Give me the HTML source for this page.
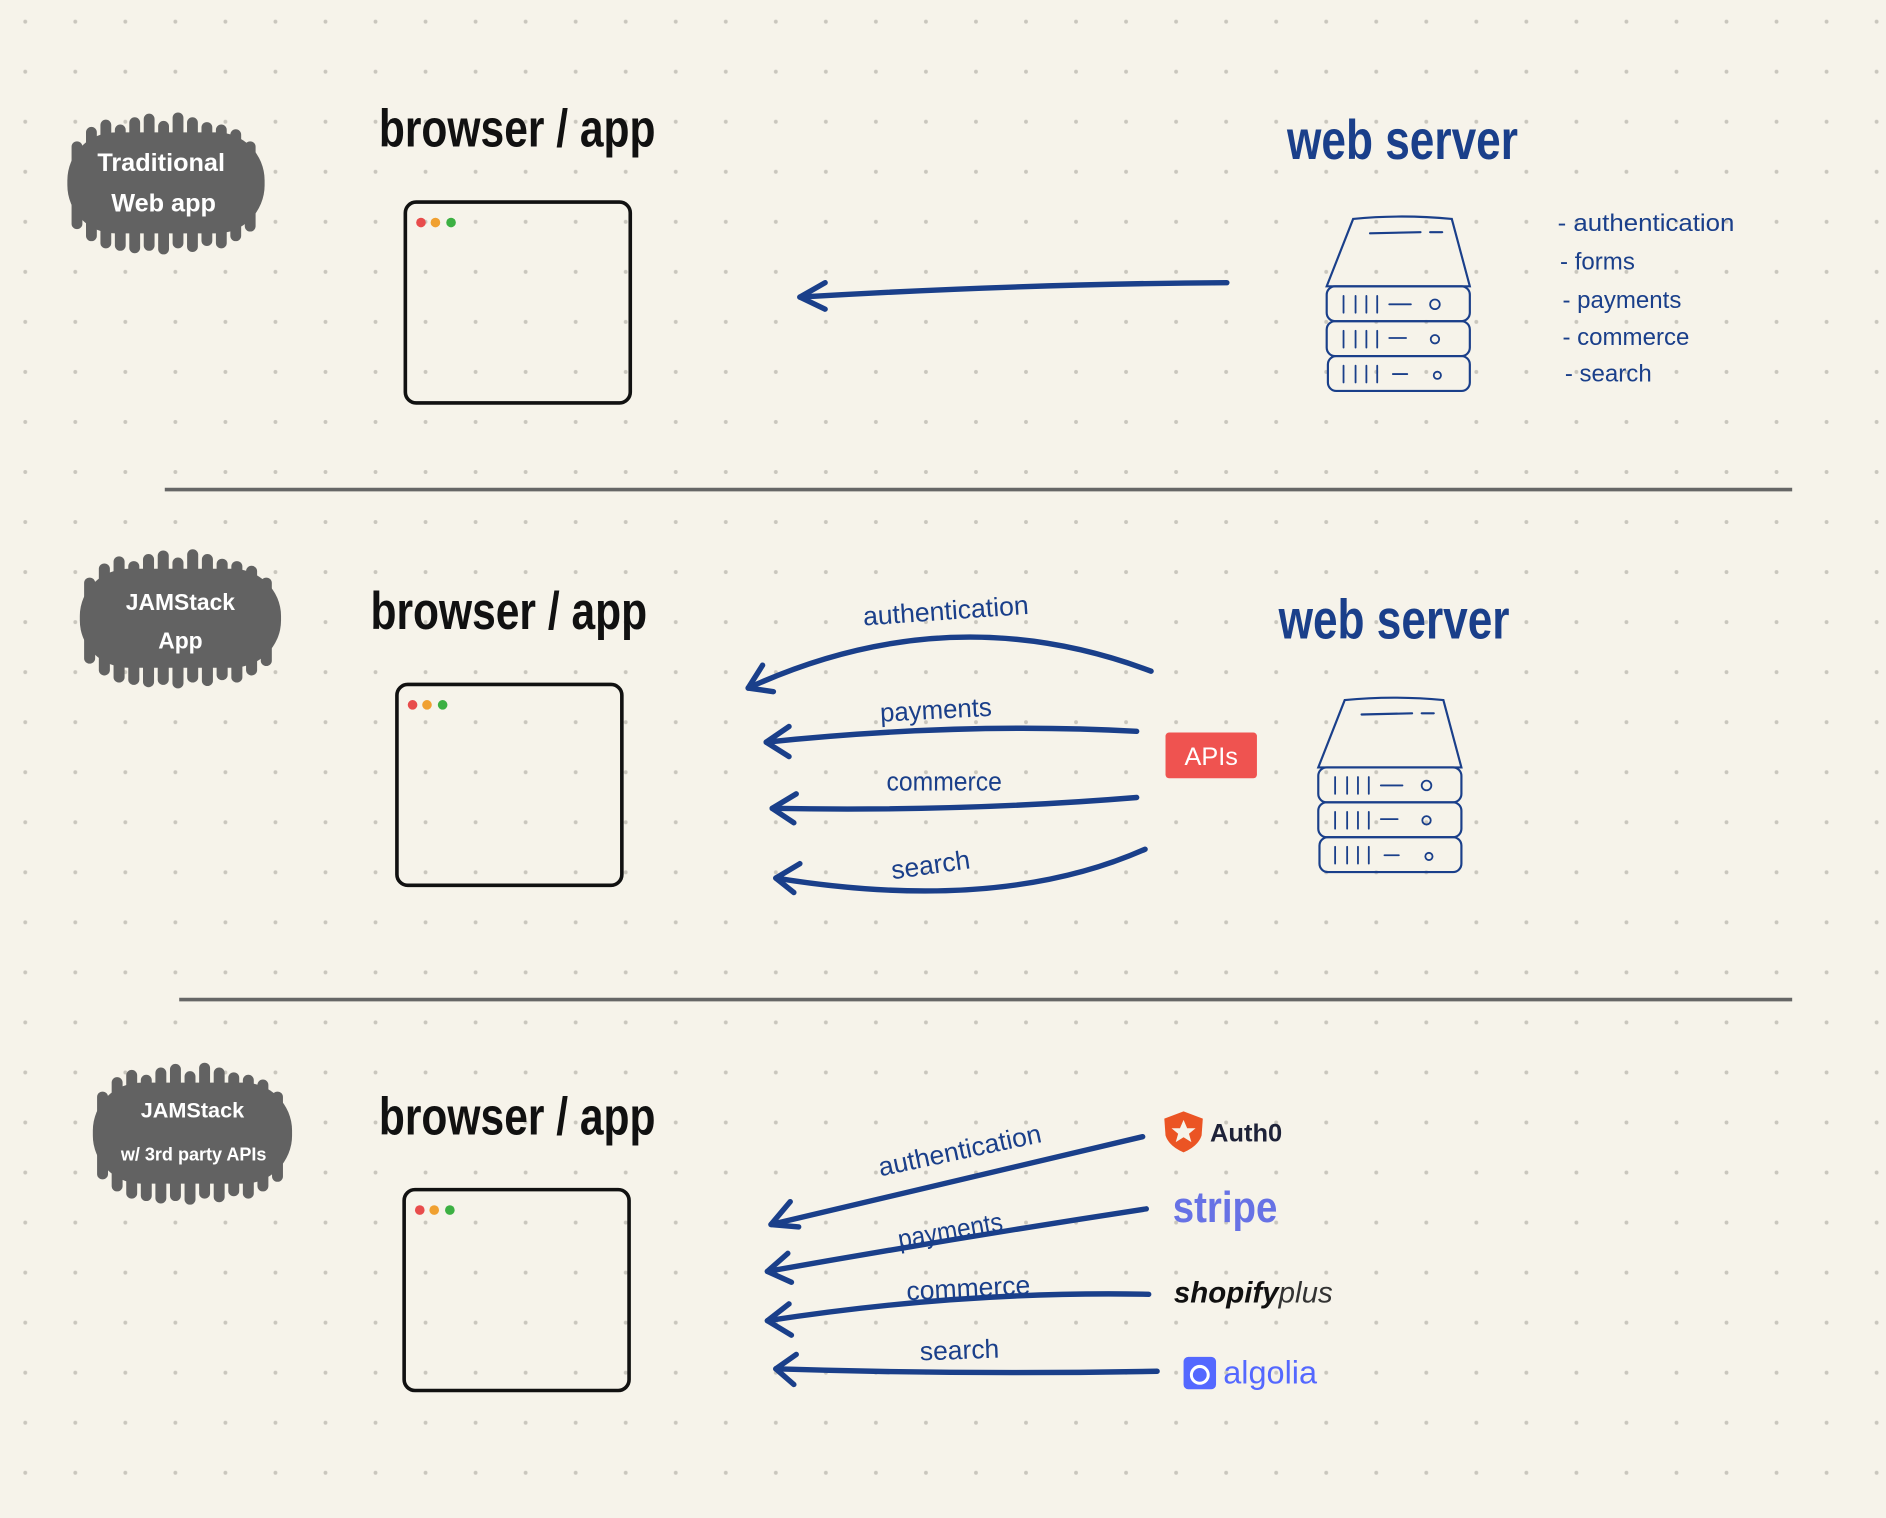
<!DOCTYPE html>
<html><head><meta charset="utf-8"><style>
html,body{margin:0;padding:0;background:#f6f3ea;}
svg{display:block;}
text{font-family:"Liberation Sans",sans-serif;}
</style></head><body>
<svg width="1886" height="1518" viewBox="0 0 1568 1262" preserveAspectRatio="none" xmlns="http://www.w3.org/2000/svg">
<defs>
<pattern id="dots" x="21" y="18" width="41.6" height="41.6" patternUnits="userSpaceOnUse">
<circle cx="0" cy="0" r="1.6" fill="#c9c6bd"/><circle cx="41.6" cy="0" r="1.6" fill="#c9c6bd"/><circle cx="0" cy="41.6" r="1.6" fill="#c9c6bd"/><circle cx="41.6" cy="41.6" r="1.6" fill="#c9c6bd"/>
</pattern>
<g id="blob" fill="#626262" stroke="#626262" stroke-linecap="round">
<rect x="-82" y="-42" width="164" height="84" rx="40" stroke="none"/>
<g stroke-width="9">
<line x1="-62" y1="-42" x2="-62" y2="44"/><line x1="-50" y1="-48" x2="-50" y2="50"/><line x1="-38" y1="-44" x2="-38" y2="52"/><line x1="-26" y1="-50" x2="-26" y2="54"/><line x1="-14" y1="-53" x2="-14" y2="52"/><line x1="-2" y1="-47" x2="-2" y2="55"/><line x1="10" y1="-54" x2="10" y2="50"/><line x1="22" y1="-50" x2="22" y2="53"/><line x1="34" y1="-46" x2="34" y2="48"/><line x1="46" y1="-44" x2="46" y2="50"/><line x1="58" y1="-40" x2="58" y2="44"/><line x1="70" y1="-30" x2="70" y2="36"/><line x1="-74" y1="-30" x2="-74" y2="34"/>
</g></g>
<g id="browser">
<rect x="0" y="0" width="187" height="167" rx="9" fill="none" stroke="#111" stroke-width="3"/>
<circle cx="13" cy="17" r="4" fill="#e84c4c"/><circle cx="25" cy="17" r="4" fill="#f0a030"/><circle cx="38" cy="17" r="4" fill="#3cb043"/>
</g>
<g id="server" fill="none" stroke="#1a3f8a" stroke-width="1.8" stroke-linecap="round">
<path d="M22,2 Q62,-2 104,2 L119,58 L0,58 Z"/>
<line x1="36" y1="14" x2="78" y2="13"/><line x1="86" y1="13" x2="96" y2="13"/>
<rect x="0" y="58" width="119" height="29" rx="7"/><rect x="0" y="87" width="119" height="29" rx="7"/><rect x="1" y="116" width="118" height="29" rx="7"/>
<g stroke-width="1.5">
<path d="M14,66v14M24,66v14M33,66v14M42,66v14M52,73h18"/><circle cx="90" cy="73" r="4"/>
<path d="M14,95v14M24,95v14M33,95v14M42,95v14M52,101h14"/><circle cx="90" cy="102" r="3.5"/>
<path d="M14,124v14M24,124v14M33,124v14M42,124v14M55,131h12"/><circle cx="92" cy="132" r="3"/>
</g></g>
</defs>
<rect width="1568" height="1262" fill="#f6f3ea"/>
<rect width="1568" height="1262" fill="url(#dots)"/>

<use href="#blob" transform="translate(138,152)"/>
<text x="134" y="142" fill="#fff" font-size="21" font-weight="bold" text-anchor="middle">Traditional</text>
<text x="136" y="176" fill="#fff" font-size="21" font-weight="bold" text-anchor="middle">Web app</text>
<use href="#blob" transform="translate(150,514) scale(1.02,0.98)"/>
<text x="150" y="507" fill="#fff" font-size="19" font-weight="bold" text-anchor="middle">JAMStack</text>
<text x="150" y="539" fill="#fff" font-size="19" font-weight="bold" text-anchor="middle">App</text>
<use href="#blob" transform="translate(160,942) scale(1.01,1.0)"/>
<text x="160" y="929" fill="#fff" font-size="18" font-weight="bold" text-anchor="middle">JAMStack</text>
<text x="161" y="965" fill="#fff" font-size="15" font-weight="bold" text-anchor="middle">w/ 3rd party APIs</text>

<g font-size="44" font-weight="bold" fill="#111">
<text x="315" y="122" textLength="230" lengthAdjust="spacingAndGlyphs">browser / app</text>
<text x="308" y="523" textLength="230" lengthAdjust="spacingAndGlyphs">browser / app</text>
<text x="315" y="943" textLength="230" lengthAdjust="spacingAndGlyphs">browser / app</text>
</g>
<use href="#browser" transform="translate(337,168)"/>
<use href="#browser" transform="translate(330,569)"/>
<use href="#browser" transform="translate(336,989)"/>

<g font-size="46" font-weight="bold" fill="#1a3f8a">
<text x="1070" y="132" textLength="192" lengthAdjust="spacingAndGlyphs">web server</text>
<text x="1063" y="531" textLength="192" lengthAdjust="spacingAndGlyphs">web server</text>
</g>
<use href="#server" transform="translate(1103,180)"/>
<use href="#server" transform="translate(1096,580)"/>

<g font-size="20" fill="#1a3f8a">
<text x="1295" y="192" textLength="147" lengthAdjust="spacingAndGlyphs">- authentication</text>
<text x="1297" y="224">- forms</text>
<text x="1299" y="256">- payments</text>
<text x="1299" y="287">- commerce</text>
<text x="1301" y="317">- search</text>
</g>

<line x1="137" y1="407" x2="1490" y2="407" stroke="#666" stroke-width="3"/>
<line x1="149" y1="831" x2="1490" y2="831" stroke="#666" stroke-width="3"/>

<g fill="none" stroke="#1a3f8a" stroke-width="4.5" stroke-linecap="round" stroke-linejoin="round">
<path d="M1020,235 Q850,236 665,247"/><path d="M686,235 L665,247 L686,257"/>
<path d="M957,558 Q790,495 622,572"/><path d="M634,553 L622,572 L643,575"/>
<path d="M945,608 Q800,600 637,617"/><path d="M656,604 L637,617 L656,629"/>
<path d="M945,663 Q800,675 642,672"/><path d="M662,660 L642,672 L660,684"/>
<path d="M952,706 Q830,760 645,730"/><path d="M665,718 L645,730 L660,742"/>
<path d="M950,945 Q780,985 641,1018"/><path d="M657,999 L641,1018 L664,1020"/>
<path d="M953,1005 Q790,1030 638,1057"/><path d="M655,1042 L638,1057 L658,1066"/>
<path d="M955,1076 Q800,1073 638,1098"/><path d="M656,1084 L638,1098 L658,1110"/>
<path d="M962,1140 Q800,1143 645,1138"/><path d="M662,1126 L645,1138 L660,1151"/>
</g>
<g font-size="22" fill="#1a3f8a">
<text x="718" y="520" transform="rotate(-4 718 520)" textLength="138" lengthAdjust="spacingAndGlyphs">authentication</text>
<text x="732" y="600" transform="rotate(-3 732 600)" textLength="93" lengthAdjust="spacingAndGlyphs">payments</text>
<text x="737" y="657" textLength="96" lengthAdjust="spacingAndGlyphs">commerce</text>
<text x="742" y="731" transform="rotate(-8 742 731)">search</text>
<text x="732" y="978" transform="rotate(-12 732 978)" textLength="138" lengthAdjust="spacingAndGlyphs">authentication</text>
<text x="748" y="1038" transform="rotate(-10 748 1038)" textLength="88" lengthAdjust="spacingAndGlyphs">payments</text>
<text x="754" y="1081" transform="rotate(-3 754 1081)" textLength="103" lengthAdjust="spacingAndGlyphs">commerce</text>
<text x="765" y="1131" transform="rotate(-2 765 1131)">search</text>
</g>

<rect x="969" y="609" width="76" height="38" rx="3" fill="#ef5350"/>
<text x="1007" y="636" fill="#fff" font-size="21" text-anchor="middle">APIs</text>

<path d="M984,924 L1000,930 L999,944 Q996,953 984,958 Q972,953 969,944 L968,930 Z" fill="#eb5424"/>
<path d="M984,931 l3,7 7,0 -5.5,4.5 2,7 -6.5,-4 -6.5,4 2,-7 -5.5,-4.5 7,0 z" fill="#f6f3ea"/>
<text x="1006" y="949" font-size="21" font-weight="bold" fill="#1e2238" textLength="60" lengthAdjust="spacingAndGlyphs">Auth0</text>
<text x="975" y="1016" font-size="36" font-weight="bold" fill="#6772e5" textLength="87" lengthAdjust="spacingAndGlyphs">stripe</text>
<text x="976" y="1083" font-size="25" font-weight="bold" font-style="italic" fill="#111" textLength="132" lengthAdjust="spacingAndGlyphs">shopify<tspan font-weight="normal" fill="#333">plus</tspan></text>
<rect x="984" y="1128" width="27" height="27" rx="4" fill="#5468ff"/>
<circle cx="997.5" cy="1143" r="7" fill="none" stroke="#fff" stroke-width="2.5"/>
<text x="1017" y="1150" font-size="27" fill="#5468ff" textLength="78" lengthAdjust="spacingAndGlyphs">algolia</text>
</svg>
</body></html>
